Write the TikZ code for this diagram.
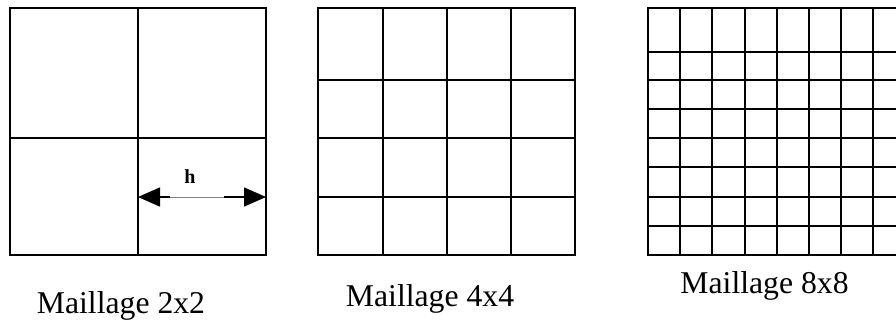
\documentclass[tikz,border=0pt]{standalone}
\usepackage{fontspec}
\setmainfont{Liberation Serif}
\usetikzlibrary{positioning,arrows.meta}

\begin{document}
\begin{tikzpicture}[x=1pt,y=-1pt,grille/.style={line width=2pt,line cap=rect},fleche/.style={line width=1.6pt,-{Triangle[length=22pt,width=19pt]}},legende/.style={font=\fontsize{31.7}{36}\selectfont,inner sep=0pt,anchor=base}]
  \useasboundingbox (0,0) rectangle (896,325);
  \clip (0,0) rectangle (896,325);
  % maillage 2x2
  \draw[grille] (10,8) rectangle (266,255);
  \draw[grille] (138,8) -- (138,255);
  \draw[grille] (10,138) -- (266,138);
  % maillage 4x4
  \draw[grille] (318,8) rectangle (575,255);
  \foreach \x in {383,447,511}
    \draw[grille] (\x,8) -- (\x,255);
  \foreach \y in {80,138,197}
    \draw[grille] (318,\y) -- (575,\y);
  % maillage 8x8
  \draw[grille] (648,8) rectangle (905.6,255);
  \foreach \i in {1,...,7}
    \draw[grille] (648+32.2*\i,8) -- (648+32.2*\i,255);
  \foreach \y in {52,80,109,138,167,197,226}
    \draw[grille] (648,\y) -- (905.6,\y);

  % pas h
  \coordinate (hL) at (138,197);
  \coordinate (hR) at (266,197);
  \coordinate (hl) at (170,197);
  \coordinate (hr) at (224,197);
  \draw[gray,line width=0.8pt] (hl) -- (hr);
  \draw[fleche] (hl) -- (hL);
  \draw[fleche] (hr) -- (hR);
  \node[font=\bfseries\fontsize{20}{22}\selectfont,inner sep=0pt,anchor=base] (h) at (190,183) {h};

  \node[legende] (l2) at (121,313) {Maillage 2x2};
  \node[legende] (l4) at (430,306) {Maillage 4x4};
  \node[legende] (l8) at (764.5,293) {Maillage 8x8};
 \end{tikzpicture}
\end{document}
